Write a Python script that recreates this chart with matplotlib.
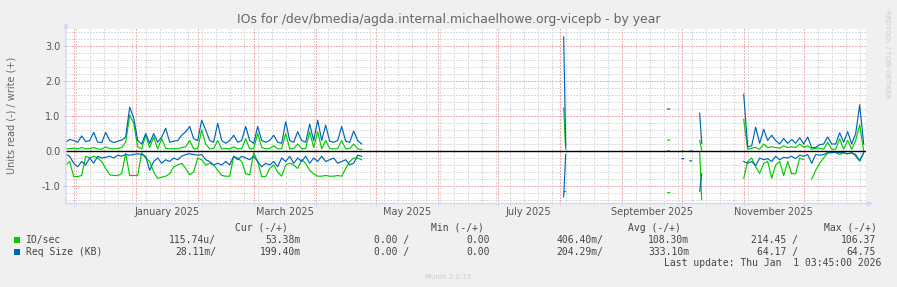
import numpy as np
import pandas as pd
import matplotlib
matplotlib.use("Agg")
import matplotlib.pyplot as plt
from matplotlib.patches import Rectangle

nan = np.nan

# Munin "IOs ... by year" graph
# write (+) and read (-) for each field, 2-day samples from 2024-11-27
io_write_1 = [0.06, 0.07, 0.08, 0.06, 0.10, 0.06, 0.07, 0.10, 0.06, 0.05,
              0.12, 0.07, 0.06, 0.07, 0.10, 0.25, 1.03, 0.80, 0.12, 0.06,
              0.45, 0.10, 0.40, 0.06, 0.35, 0.08, 0.06, 0.07, 0.06, 0.10,
              0.12, 0.30, 0.06, 0.07, 0.60, 0.20, 0.06, 0.07, 0.30, 0.06,
              0.07, 0.06, 0.12, 0.06, 0.07, 0.35, 0.06, 0.07, 0.50, 0.10,
              0.06, 0.07, 0.15, 0.06, 0.07, 0.50, 0.06, 0.07, 0.20, 0.06,
              0.07, 0.55, 0.10, 0.55, 0.06, 0.30, 0.07, 0.06, 0.07, 0.30,
              0.06, 0.07, 0.20, 0.06, 0.04]
io_read_1 = [-0.40, -0.30, -0.73, -0.73, -0.70, -0.15, -0.20, -0.15, -0.20, -0.30,
             -0.50, -0.68, -0.70, -0.70, -0.65, -0.07, -0.70, -0.70, -0.70, -0.05,
             -0.20, -0.30, -0.60, -0.78, -0.75, -0.72, -0.65, -0.45, -0.40, -0.35,
             -0.50, -0.68, -0.60, -0.20, -0.25, -0.40, -0.35, -0.40, -0.55, -0.70,
             -0.72, -0.72, -0.15, -0.20, -0.30, -0.65, -0.68, -0.05, -0.30, -0.73,
             -0.73, -0.50, -0.40, -0.60, -0.72, -0.40, -0.35, -0.40, -0.50, -0.25,
             -0.35, -0.55, -0.65, -0.72, -0.72, -0.70, -0.72, -0.72, -0.70, -0.72,
             -0.50, -0.30, -0.20, -0.20, -0.25]
req_write_1 = [0.25, 0.33, 0.30, 0.25, 0.43, 0.27, 0.30, 0.53, 0.25, 0.24,
               0.53, 0.30, 0.24, 0.28, 0.31, 0.40, 1.25, 0.95, 0.30, 0.20,
               0.50, 0.22, 0.50, 0.25, 0.40, 0.65, 0.25, 0.28, 0.30, 0.45,
               0.55, 0.70, 0.35, 0.30, 0.88, 0.60, 0.30, 0.25, 0.79, 0.30,
               0.22, 0.30, 0.45, 0.25, 0.30, 0.70, 0.30, 0.22, 0.70, 0.30,
               0.25, 0.30, 0.45, 0.25, 0.22, 0.84, 0.30, 0.25, 0.55, 0.30,
               0.25, 0.77, 0.30, 0.88, 0.30, 0.74, 0.28, 0.25, 0.30, 0.70,
               0.28, 0.25, 0.57, 0.30, 0.20]
req_read_1 = [-0.10, -0.15, -0.35, -0.45, -0.30, -0.40, -0.20, -0.35, -0.15, -0.20,
              -0.18, -0.15, -0.20, -0.12, -0.15, -0.10, -0.12, -0.10, -0.08, -0.10,
              -0.15, -0.55, -0.30, -0.20, -0.35, -0.25, -0.30, -0.20, -0.25, -0.15,
              -0.10, -0.08, -0.10, -0.12, -0.10, -0.25, -0.30, -0.40, -0.35, -0.40,
              -0.30, -0.40, -0.15, -0.25, -0.15, -0.20, -0.25, -0.15, -0.30, -0.45,
              -0.35, -0.40, -0.30, -0.45, -0.20, -0.30, -0.15, -0.35, -0.20, -0.30,
              -0.15, -0.35, -0.20, -0.30, -0.15, -0.30, -0.25, -0.20, -0.35, -0.30,
              -0.25, -0.40, -0.35, -0.12, -0.15]

# scattered daily samples Aug - Oct 2025
mid_dates = ["2025-08-03", "2025-08-04", "2025-08-05",
             "2025-09-24", "2025-09-25", "2025-09-26",
             "2025-10-01", "2025-10-02", "2025-10-03",
             "2025-10-05", "2025-10-06", "2025-10-07",
             "2025-10-10", "2025-10-11"]
io_write_mid = [1.23, 0.05, nan, 0.31, 0.31, nan, 0.0, 0.0, nan, nan, nan, nan, 0.30, 0.02]
io_read_mid = [-1.17, -1.15, nan, -1.19, -1.19, nan, nan, nan, nan, nan, nan, nan, -0.05, -1.38]
req_write_mid = [3.26, 0.15, nan, 1.20, 1.20, nan, nan, nan, nan, 0.0, 0.0, nan, 1.08, 0.22]
req_read_mid = [-1.31, -0.10, nan, 0.0, 0.0, nan, -0.22, -0.22, nan, -0.28, -0.28, nan, -1.15, -0.65]

# 2-day samples from 2025-11-01
io_write_3 = [0.90, 0.05, 0.08, 0.10, 0.05, 0.20, 0.10, 0.12, 0.10, 0.08,
              0.15, 0.10, 0.12, 0.10, 0.20, 0.10, 0.15, 0.05, 0.08, 0.08,
              0.05, 0.25, 0.05, 0.05, 0.35, 0.05, 0.30, 0.05, 0.30, 0.75, 0.0]
io_read_3 = [-0.78, -0.30, -0.20, -0.45, -0.64, -0.35, -0.30, -0.78, -0.40, -0.30,
             -0.70, -0.30, -0.65, -0.65, -0.20, -0.25, nan, -0.80, -0.55, -0.35,
             -0.20, -0.05, -0.03, -0.05, -0.10, -0.05, -0.08, -0.05, -0.15, -0.28, -0.05]
req_write_3 = [1.62, 0.12, 0.15, 0.68, 0.22, 0.62, 0.30, 0.45, 0.30, 0.20,
               0.36, 0.22, 0.33, 0.22, 0.38, 0.20, 0.40, 0.10, 0.10, 0.18,
               0.20, 0.40, 0.20, 0.20, 0.52, 0.25, 0.55, 0.20, 0.50, 1.32, 0.20]
req_read_3 = [-0.30, -0.35, -0.30, -0.42, -0.20, -0.25, -0.22, -0.30, -0.15, -0.25,
              -0.18, -0.20, -0.15, -0.22, -0.12, -0.15, -0.10, -0.35, -0.10, -0.12,
              -0.10, -0.05, -0.05, -0.03, -0.05, -0.05, -0.08, -0.05, -0.10, -0.28, -0.05]

month_labels = ["January 2025", "March 2025", "May 2025",
                "July 2025", "September 2025", "November 2025"]
label_months = ["2025-01-01", "2025-03-01", "2025-05-01",
                "2025-07-01", "2025-09-01", "2025-11-01"]

legend_names = ["IO/sec", "Req Size (KB)"]
legend_cur = [("115.74u/", "53.38m"), ("28.11m/", "199.40m")]
legend_min = [("0.00 /", "0.00"), ("0.00 /", "0.00")]
legend_avg = [("406.40m/", "108.30m"), ("204.29m/", "333.10m")]
legend_max = [("214.45 /", "106.37"), ("64.17 /", "64.75")]

green = "#00CC00"
blue = "#0066B3"
axis_col = "#CFD6F8"
txt = "#555555"
minor_col = "#DCDCDC"
major_col = "#F0B0B0"

d1 = pd.date_range("2024-11-27", periods=len(io_write_1), freq="2D")
d_mid = pd.to_datetime(mid_dates)
d3 = pd.date_range("2025-11-01", periods=len(io_write_3), freq="2D")

W, H = 897, 287
fig = plt.figure(figsize=(W / 100, H / 100), dpi=100, facecolor="#F0F0F0")
ax = fig.add_axes([66 / W, 83.5 / H, 800 / W, 175 / H])
ax.set_facecolor("white")
for s in ax.spines.values():
    s.set_visible(False)

start = pd.Timestamp("2024-11-27 03:45")
end = pd.Timestamp("2026-01-01 03:45")
ax.set_xlim(start, end)
ax.set_ylim(-1.5, 3.5)

# grid, rrdtool style dotted
grid_kw = dict(lw=0.75, ls=(0, (1.5, 1.5)), antialiased=False)
for v in np.arange(-14, 35, 2) / 10:
    if abs(v - round(v)) < 1e-6:
        continue
    ax.axhline(v, color=minor_col, zorder=0.5, **grid_kw)
for v in [-1, 1, 2, 3]:
    ax.axhline(v, color=major_col, zorder=0.6, **grid_kw)
mondays = pd.date_range("2024-11-27", "2026-01-01", freq="W-MON")
month_starts = pd.date_range("2024-12-01", "2025-12-01", freq="MS")
for d in mondays:
    if d.day == 1:
        continue
    ax.axvline(d, color=minor_col, zorder=0.5, **grid_kw)
for d in month_starts:
    ax.axvline(d, color=major_col, zorder=0.6, **grid_kw)

# data
segments = [
    (d1, io_read_1, io_write_1, req_read_1, req_write_1),
    (d_mid, io_read_mid, io_write_mid, req_read_mid, req_write_mid),
    (d3, io_read_3, io_write_3, req_read_3, req_write_3),
]
for dates, gr, gw, br, bw in segments:
    ax.plot(dates, gr, color=green, lw=0.85, zorder=2)
    ax.plot(dates, gw, color=green, lw=0.85, zorder=2)
    ax.plot(dates, br, color=blue, lw=0.85, zorder=3)
    ax.plot(dates, bw, color=blue, lw=0.85, zorder=3)

ax.axhline(0, color="black", lw=1.0, zorder=5)

# ticks
ax.set_yticks([-1, 0, 1, 2, 3])
ax.set_yticklabels(["-1.0", "0.0", "1.0", "2.0", "3.0"])
ax.tick_params(axis="y", length=2, color=axis_col, labelcolor=txt, labelsize=7, pad=2)
ax.set_xticks(month_starts)
ax.set_xticks(mondays, minor=True)
ax.tick_params(axis="x", which="both", direction="inout", length=3, color=axis_col, labelbottom=False)
ax.tick_params(axis="x", which="minor", length=2)
ax.tick_params(axis="y", which="minor", length=0)

for lab, m in zip(month_labels, label_months):
    m0 = pd.Timestamp(m)
    mid = m0 + (m0 + pd.offsets.MonthBegin(1) - m0) / 2
    ax.text(mid, -0.05, lab, transform=ax.get_xaxis_transform(), ha="center", va="center",
            fontsize=7, color=txt)

# axis lines with arrows
ax.annotate("", xy=(1.012, 0), xytext=(-0.004, 0), xycoords="axes fraction",
            arrowprops=dict(arrowstyle="-|>", color=axis_col, lw=0.9, mutation_scale=7),
            annotation_clip=False, zorder=6)
ax.annotate("", xy=(0, 1.05), xytext=(0, -0.01), xycoords="axes fraction",
            arrowprops=dict(arrowstyle="-|>", color=axis_col, lw=0.9, mutation_scale=7),
            annotation_clip=False, zorder=6)

# texts
fig.text(0.5, 1 - 19 / H, "IOs for /dev/bmedia/agda.internal.michaelhowe.org-vicepb - by year",
         ha="center", va="center", fontsize=8.9, color="#666666")
fig.text(12 / W, 1 - 115.5 / H, "Units read (-) / write (+)", rotation=90,
         ha="center", va="center", fontsize=7, color="#666666")
fig.text(887 / W, 1 - 54 / H, "RRDTOOL / TOBI OETIKER", rotation=270,
         ha="center", va="center", fontsize=5, color="#CCCCCC")

mono = dict(family="DejaVu Sans Mono", fontsize=7, color="#444444", va="center")
hy = 1 - 228 / H
for lab, xr in zip(["Cur (-/+)", "Min (-/+)", "Avg (-/+)", "Max (-/+)"], [288, 484, 681, 877]):
    fig.text(xr / W, hy, lab, ha="right", **mono)

row_y = [240, 252]
for i, name in enumerate(legend_names):
    y = 1 - row_y[i] / H
    col = green if i == 0 else blue
    fig.patches.append(Rectangle((14 / W, y - 3 / H), 6 / W, 6 / H, transform=fig.transFigure,
                                 facecolor=col, edgecolor="none"))
    fig.text(26 / W, y, name, ha="left", **mono)
    cols = [legend_cur[i], legend_min[i], legend_avg[i], legend_max[i]]
    lefts = [216, 409, 603, 798]
    rights = [301, 490, 689, 876]
    for (a, b), xl, xr in zip(cols, lefts, rights):
        fig.text(xl / W, y, a, ha="right", **mono)
        fig.text(xr / W, y, b, ha="right", **mono)

fig.text(881 / W, 1 - 263.5 / H, "Last update: Thu Jan  1 03:45:00 2026", ha="right", **mono)
fig.text(448 / W, 1 - 277 / H, "Munin 2.0.73", ha="center", va="center", fontsize=5, color="#C8C8C8")

fig.savefig("out.png", dpi=100, facecolor=fig.get_facecolor())
